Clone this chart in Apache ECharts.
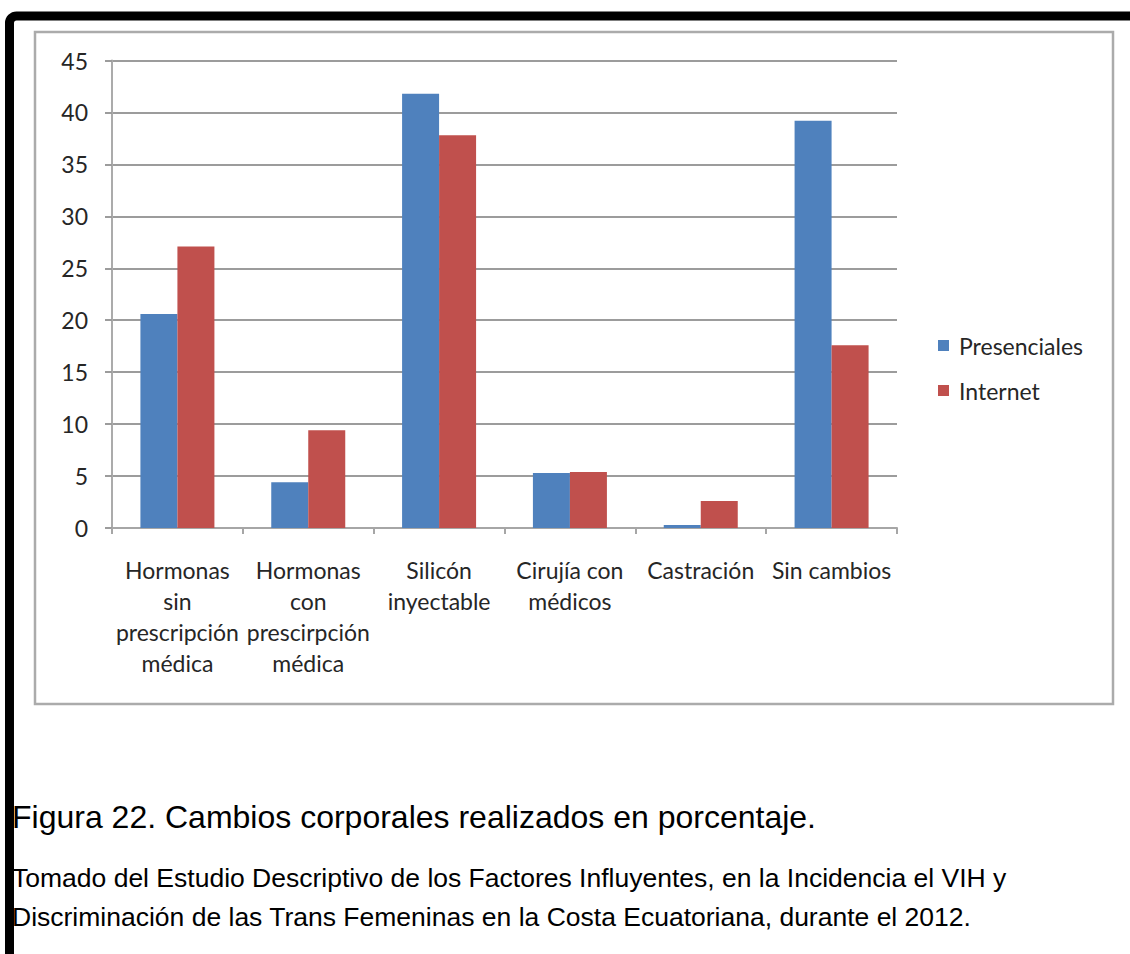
<!DOCTYPE html>
<html>
<head>
<meta charset="utf-8">
<title>Cambios corporales realizados en porcentaje</title>
<script src="https://cdn.jsdelivr.net/npm/echarts@6/dist/echarts.min.js"></script>
<style>
  html, body { margin: 0; padding: 0; background: #ffffff; }
  #chart { width: 1130px; height: 954px; }
</style>
</head>
<body>
<div id="chart"></div>
<script>
// Categories and percentages of body changes, by survey type
const categories = [
  'Hormonas\nsin\nprescripción\nmédica',
  'Hormonas\ncon\nprescirpción\nmédica',
  'Silicón\ninyectable',
  'Cirujía con\nmédicos',
  'Castración',
  'Sin cambios'
];
const seriesNames = ['Presenciales', 'Internet'];
const presenciales = [20.6, 4.4, 41.8, 5.3, 0.3, 39.2];
const internet = [27.1, 9.4, 37.8, 5.4, 2.6, 17.6];
const yTicks = { min: 0, max: 45, interval: 5 };

const captionTitle = 'Figura 22. Cambios corporales realizados en porcentaje.';
const captionLines = [
  'Tomado del Estudio Descriptivo de los Factores Influyentes, en la Incidencia el VIH y',
  'Discriminación de las Trans Femeninas en la Costa Ecuatoriana, durante el 2012.'
];

const chartFont = 'Lato, "Open Sans", sans-serif';
const captionFont = '"Liberation Sans", Arial, sans-serif';
const inkColor = '#262626';
const gridGray = '#9c9c9c';

const chart = echarts.init(document.getElementById('chart'), null, { renderer: 'svg' });

chart.setOption({
  animation: false,
  backgroundColor: '#ffffff',
  grid: { left: 112, right: 233, top: 60.5, bottom: 426, containLabel: false },
  legend: {
    orient: 'vertical',
    left: 933,
    top: 329,
    itemWidth: 11,
    itemHeight: 11,
    itemGap: 22,
    icon: 'rect',
    data: seriesNames,
    textStyle: { fontFamily: chartFont, fontSize: 23, color: inkColor, padding: [0, 0, 0, 5] }
  },
  xAxis: {
    type: 'category',
    data: categories,
    axisLine: { show: true, lineStyle: { color: '#a6a6a6', width: 2 } },
    axisTick: { show: true, alignWithLabel: false, length: 6, lineStyle: { color: '#a6a6a6', width: 2 } },
    axisLabel: {
      interval: 0,
      margin: 26,
      fontFamily: chartFont,
      fontSize: 23,
      lineHeight: 31,
      color: inkColor,
      align: 'center'
    }
  },
  yAxis: {
    type: 'value',
    min: yTicks.min,
    max: yTicks.max,
    interval: yTicks.interval,
    axisLine: { show: true, lineStyle: { color: '#ababab', width: 2 } },
    axisTick: { show: true, length: 7, lineStyle: { color: gridGray, width: 2 } },
    splitLine: { show: true, lineStyle: { color: gridGray, width: 2 } },
    axisLabel: {
      margin: 24,
      fontFamily: chartFont,
      fontSize: 23,
      color: inkColor
    }
  },
  series: [
    {
      name: seriesNames[0],
      type: 'bar',
      data: presenciales,
      barWidth: 37,
      barGap: '0%',
      itemStyle: { color: '#4f81bd' }
    },
    {
      name: seriesNames[1],
      type: 'bar',
      data: internet,
      barWidth: 37,
      barGap: '0%',
      itemStyle: { color: '#c0504d' }
    }
  ],
  graphic: [
    // chart frame
    {
      type: 'rect',
      silent: true,
      z: -1,
      shape: { x: 35, y: 32, width: 1078, height: 672 },
      style: { fill: 'none', stroke: '#ababab', lineWidth: 2.5 }
    },
    // caption
    {
      type: 'text',
      left: 12,
      top: 801,
      style: { text: captionTitle, font: '32px ' + captionFont, fill: '#000000' }
    },
    {
      type: 'text',
      left: 12,
      top: 864,
      style: { text: captionLines[0], font: '26.5px ' + captionFont, fill: '#000000' }
    },
    {
      type: 'text',
      left: 12,
      top: 903,
      style: { text: captionLines[1], font: '26.5px ' + captionFont, fill: '#000000' }
    },
    // page border (top and left edges, rounded corner)
    {
      type: 'rect',
      silent: true,
      z: 10,
      shape: { x: 9.5, y: 16, width: 1300, height: 1100, r: 7 },
      style: { fill: 'none', stroke: '#000000', lineWidth: 9 }
    }
  ]
});
</script>
</body>
</html>
